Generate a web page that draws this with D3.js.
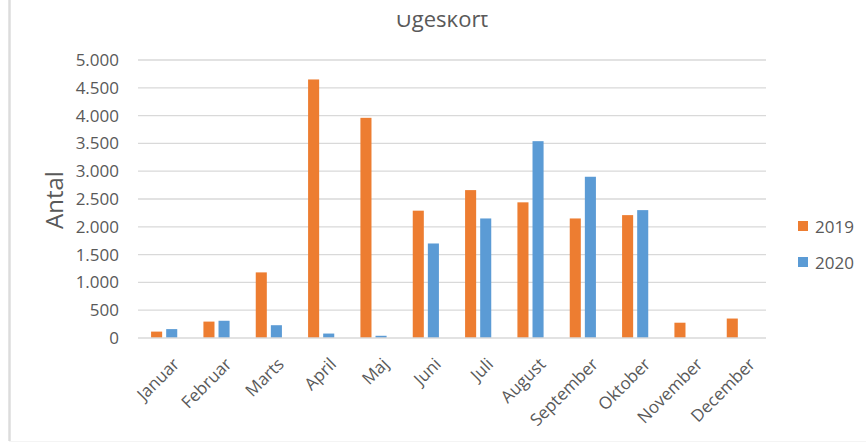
<!DOCTYPE html>
<html>
<head>
<meta charset="utf-8">
<script src="https://cdn.jsdelivr.net/npm/d3@7"></script>
<style>
  html, body { margin: 0; padding: 0; background: #fff; }
  svg { display: block; font-family: "Open Sans", sans-serif; }
</style>
</head>
<body>
<svg id="chart" width="866" height="445"></svg>
<script>
const title = "Ugeskort";
const yLabel = "Antal";
const months = ["Januar","Februar","Marts","April","Maj","Juni","Juli","August","September","Oktober","November","December"];
const seriesNames = ["2019", "2020"];
const values2019 = [115, 295, 1180, 4650, 3960, 2290, 2660, 2440, 2150, 2210, 275, 350];
const values2020 = [160, 310, 230, 80, 40, 1700, 2150, 3540, 2900, 2300, null, null];
const yTicks = [0, 500, 1000, 1500, 2000, 2500, 3000, 3500, 4000, 4500, 5000];
const colors = ["#ED7D31", "#5B9BD5"];

const svg = d3.select("#chart");
const W = 866, H = 445;
const plot = { left: 138, right: 766, top: 60, bottom: 338 };
const textColor = "#595959";
const gridColor = "#d9d9d9";

// frame
svg.append("line").attr("x1", 9.5).attr("x2", 9.5).attr("y1", 0).attr("y2", 441)
  .attr("stroke", "#dcdcdc").attr("stroke-width", 2.5);
svg.append("line").attr("x1", 9).attr("x2", W).attr("y1", 441.5).attr("y2", 441.5)
  .attr("stroke", "#f4f4f4").attr("stroke-width", 1);

const x0 = d3.scaleBand().domain(months).range([plot.left, plot.right]).paddingInner(0.5).paddingOuter(0.25);
const x1 = d3.scaleBand().domain(seriesNames).range([0, x0.bandwidth()]).paddingInner(0.267);
const y = d3.scaleLinear().domain([0, 5000]).range([plot.bottom, plot.top]);

const fmt = v => d3.format(",")(v).replace(/,/g, ".");

// gridlines
svg.append("g").selectAll("line").data(yTicks.filter(t => t > 0)).join("line")
  .attr("x1", plot.left).attr("x2", plot.right)
  .attr("y1", d => y(d)).attr("y2", d => y(d))
  .attr("stroke", gridColor).attr("stroke-width", 1.3);

// y axis labels
const yAxis = d3.axisLeft(y).tickValues(yTicks).tickFormat(fmt).tickSize(0).tickPadding(0);
const gy = svg.append("g").attr("transform", `translate(${plot.left - 19},0)`).call(yAxis);
gy.select(".domain").remove();
gy.selectAll("text").attr("fill", textColor).style("font-size", "17px").style("font-family", "Open Sans, sans-serif");

// bars
const data = months.map((m, i) => ({ m, vals: [values2019[i], values2020[i]] }));
const groups = svg.append("g").selectAll("g").data(data).join("g")
  .attr("transform", d => `translate(${x0(d.m)},0)`);
groups.selectAll("rect").data(d => d.vals.map((v, j) => ({ s: seriesNames[j], v, j })).filter(e => e.v != null))
  .join("rect")
  .attr("x", e => x1(e.s))
  .attr("width", x1.bandwidth())
  .attr("y", e => y(e.v))
  .attr("height", e => y(0) - y(e.v))
  .attr("fill", e => colors[e.j]);

// baseline
svg.append("line").attr("x1", plot.left).attr("x2", plot.right)
  .attr("y1", y(0)).attr("y2", y(0)).attr("stroke", gridColor).attr("stroke-width", 1.3);

// x axis labels
const xAxis = d3.axisBottom(x0).tickSize(0).tickPadding(0);
const gx = svg.append("g").attr("transform", `translate(0,${plot.bottom})`).call(xAxis);
gx.select(".domain").remove();
gx.selectAll("text")
  .attr("fill", textColor).style("font-size", "17px").style("font-family", "Open Sans, sans-serif")
  .attr("text-anchor", "end")
  .attr("dy", null).attr("y", null)
  .attr("transform", "translate(13,24) rotate(-45)")
  .attr("dominant-baseline", "middle");

// y axis title
svg.append("text").attr("transform", `translate(53,${(plot.top + plot.bottom) / 2 + 1}) rotate(-90)`)
  .attr("text-anchor", "middle").attr("dominant-baseline", "central").attr("fill", textColor)
  .style("font-size", "24px").text(yLabel);

// title (top clipped like in reference)
svg.append("clipPath").attr("id", "titleClip").append("rect")
  .attr("x", 0).attr("y", 15).attr("width", W).attr("height", 40);
svg.append("text").attr("x", 442).attr("y", 27).attr("text-anchor", "middle")
  .attr("clip-path", "url(#titleClip)")
  .attr("fill", textColor).style("font-size", "22px").text(title);

// legend
const legend = svg.append("g").selectAll("g").data(seriesNames).join("g")
  .attr("transform", (d, i) => `translate(798,${226 + i * 36})`);
legend.append("rect").attr("x", 0).attr("y", -5).attr("width", 10).attr("height", 10)
  .attr("fill", (d, i) => colors[i]);
legend.append("text").attr("x", 17).attr("y", 0).attr("dominant-baseline", "central")
  .attr("fill", textColor).style("font-size", "17px").text(d => d);
</script>
</body>
</html>
